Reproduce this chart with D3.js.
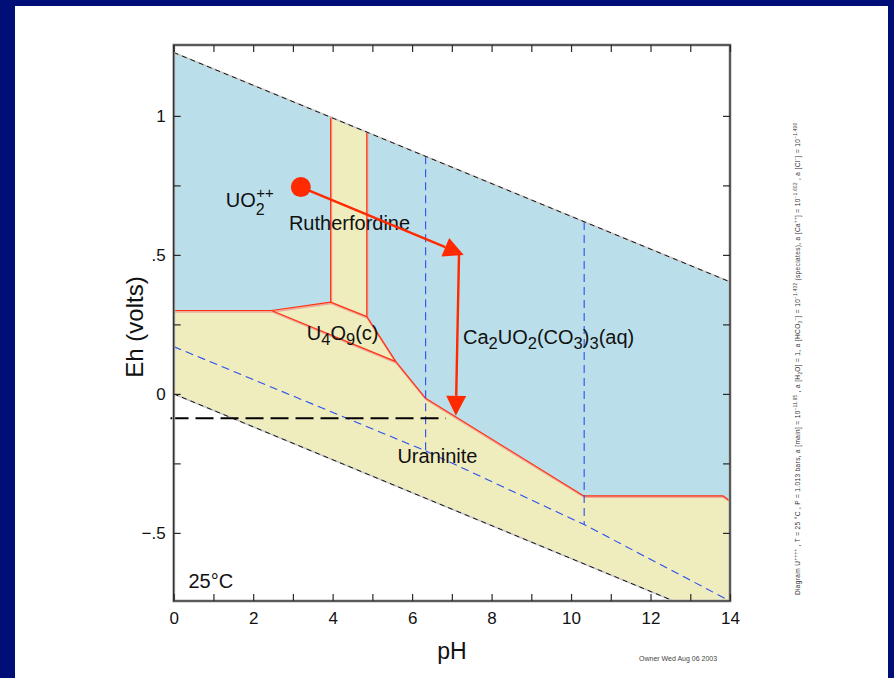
<!DOCTYPE html>
<html>
<head>
<meta charset="utf-8">
<script src="https://cdn.jsdelivr.net/npm/d3@7"></script>
<style>
  body { margin: 0; background: #000f78; }
  svg { display: block; }
  text { font-family: "Liberation Sans", Arial, Helvetica, sans-serif; }
</style>
</head>
<body>
<svg id="chart" width="894" height="678"></svg>
<script>
// Eh–pH predominance diagram for the U–C–Ca–Cl–H2O system at 25 °C

// Axis ticks and labels
const pHTicks = [0, 1, 2, 3, 4, 5, 6, 7, 8, 9, 10, 11, 12, 13, 14];
const pHLabels = [0, 2, 4, 6, 8, 10, 12, 14];
const ehTicks = [-0.5, -0.25, 0, 0.25, 0.5, 0.75, 1];
const ehLabelValues = [-0.5, 0, 0.5, 1];
const ehLabelText = ["\u2212.5", "0", ".5", "1"];

// Water stability limits (pH, Eh)
const waterUpper = [[0, 1.228], [14, 0.403]];
const waterLower = [[0, 0.0], [14, -0.829]];

// Predominance fields (pH, Eh)
const rutherfordineField = [[3.95, 0.998], [4.86, 0.941], [4.86, 0.278], [3.95, 0.330]];
const u4o9Field = [[2.46, 0.300], [3.95, 0.330], [4.86, 0.278], [5.59, 0.116]];
const aqueousLeft = [[0, 1.228], [3.95, 0.998], [3.95, 0.330], [2.46, 0.300], [0, 0.300]];
const aqueousRight = [[4.86, 0.941], [14, 0.403], [14, -0.385], [13.83, -0.367],
                      [10.32, -0.367], [6.34, -0.016], [5.59, 0.116], [4.86, 0.278]];

// Field boundaries
const boundaries = [
  [[0, 0.300], [2.46, 0.300], [3.95, 0.330], [3.95, 0.998]],
  [[4.86, 0.941], [4.86, 0.278], [5.59, 0.116], [6.34, -0.016], [10.32, -0.367], [13.83, -0.367], [14, -0.385]],
  [[3.95, 0.330], [4.86, 0.278]],
  [[2.46, 0.300], [5.59, 0.116]]
];

// Carbon speciation lines: CO2(aq)/HCO3-/CO3-- (vertical) and carbonate/CH4 (diagonal)
const carbonVertical = [
  [[6.34, 0.855], [6.34, -0.205]],
  [[10.33, 0.618], [10.33, -0.470]]
];
const carbonDiagonal = [[0, 0.170], [6.34, -0.205], [10.33, -0.470], [14, -0.745]];

// Reaction path: starting point and two legs
const startPoint = [3.2, 0.744];
const pathLegs = [
  [[3.2, 0.744], [7.30, 0.500]],
  [[7.18, 0.500], [7.10, -0.079]]
];

// Horizontal reference Eh
const refLine = [[-0.08, -0.088], [6.85, -0.088]];

// Field labels
const fieldLabels = [
  { pH: 2.90, Eh: 0.590, parts: [["Rutherfordine", 0]] },
  { pH: 3.35, Eh: 0.194, parts: [["U", 0], ["4", 1], ["O", 0], ["9", 1], ["(c)", 0]] },
  { pH: 7.28, Eh: 0.180, parts: [["Ca", 0], ["2", 1], ["UO", 0], ["2", 1], ["(CO", 0], ["3", 1], [")", 0], ["3", 1], ["(aq)", 0]] },
  { pH: 5.63, Eh: -0.247, parts: [["Uraninite", 0]] }
];

const W = 894, H = 678;
const margin = { left: 173.7, right: 730, top: 45, bottom: 601 };

const svg = d3.select("#chart");

svg.append("rect").attr("width", W).attr("height", H).attr("fill", "#000f78");
svg.append("rect").attr("x", 15).attr("y", 6).attr("width", 873).attr("height", H - 6).attr("fill", "#ffffff");

const x = d3.scaleLinear().domain([0, 14]).range([margin.left, margin.right]);
const y = d3.scaleLinear().domain([-0.745, 1.255]).range([margin.bottom, margin.top]);

const line = d3.line().x(d => x(d[0])).y(d => y(d[1]));
const poly = pts => line(pts) + "Z";

svg.append("defs").append("clipPath").attr("id", "plotClip")
  .append("rect")
  .attr("x", margin.left).attr("y", margin.top)
  .attr("width", margin.right - margin.left).attr("height", margin.bottom - margin.top);

const plot = svg.append("g").attr("clip-path", "url(#plotClip)");

const BLUE = "#bbdfea", YELLOW = "#efecbe", RED = "#ff3311";

// Water stability field (mineral colour), then aqueous fields on top
plot.append("path")
  .attr("d", poly([waterUpper[0], waterUpper[1], waterLower[1], waterLower[0]]))
  .attr("fill", YELLOW);
[aqueousLeft, aqueousRight].forEach(f =>
  plot.append("path").attr("d", poly(f)).attr("fill", BLUE));
[rutherfordineField, u4o9Field].forEach(f =>
  plot.append("path").attr("d", poly(f)).attr("fill", YELLOW));

// Boundaries with a soft shadow
boundaries.forEach(b => {
  plot.append("path").attr("d", line(b)).attr("fill", "none")
    .attr("stroke", "#eeaa9c").attr("stroke-width", 2).attr("transform", "translate(0.6,1.2)");
});
boundaries.forEach(b => {
  plot.append("path").attr("d", line(b)).attr("fill", "none")
    .attr("stroke", RED).attr("stroke-width", 1.2).attr("stroke-linejoin", "round");
});

// Carbon speciation (blue dashed)
carbonVertical.concat([carbonDiagonal]).forEach(c => {
  plot.append("path").attr("d", line(c)).attr("fill", "none")
    .attr("stroke", "#2b4ff0").attr("stroke-width", 1.1).attr("stroke-dasharray", "8,5");
});

// Water limits (black dashed over a grey trace)
[waterUpper, waterLower].forEach(w => {
  plot.append("path").attr("d", line(w)).attr("fill", "none")
    .attr("stroke", "#c8c8c8").attr("stroke-width", 1.6);
  plot.append("path").attr("d", line(w)).attr("fill", "none")
    .attr("stroke", "#111").attr("stroke-width", 1).attr("stroke-dasharray", "5,4");
});

// Reference Eh line
svg.append("path").attr("d", line(refLine)).attr("fill", "none")
  .attr("stroke", "#000").attr("stroke-width", 2).attr("stroke-dasharray", "18,7");

// Frame
svg.append("rect")
  .attr("x", margin.left).attr("y", margin.top)
  .attr("width", margin.right - margin.left).attr("height", margin.bottom - margin.top)
  .attr("fill", "none").attr("stroke", "#b5b5b5").attr("stroke-width", 3);
svg.append("rect")
  .attr("x", margin.left).attr("y", margin.top)
  .attr("width", margin.right - margin.left).attr("height", margin.bottom - margin.top)
  .attr("fill", "none").attr("stroke", "#2a2a2a").attr("stroke-width", 1.3);

// Axes with inward ticks on all four sides
const styleAxis = g => {
  g.select(".domain").remove();
  g.selectAll(".tick line").attr("stroke", "#2a2a2a").attr("stroke-width", 1.2);
  g.selectAll(".tick text").attr("fill", "#111").attr("font-size", 17)
    .attr("font-family", "'Liberation Sans', Arial, sans-serif");
};
svg.append("g").attr("transform", `translate(0,${margin.bottom})`)
  .call(d3.axisBottom(x).tickValues(pHTicks).tickSize(-7).tickPadding(11)
    .tickFormat(d => pHLabels.includes(d) ? String(d) : ""))
  .call(styleAxis);
svg.append("g").attr("transform", `translate(0,${margin.top})`)
  .call(d3.axisTop(x).tickValues(pHTicks).tickSize(-7).tickFormat(""))
  .call(styleAxis);
svg.append("g").attr("transform", `translate(${margin.left},0)`)
  .call(d3.axisLeft(y).tickValues(ehTicks).tickSize(-7).tickPadding(8)
    .tickFormat(d => { const i = ehLabelValues.indexOf(d); return i >= 0 ? ehLabelText[i] : ""; }))
  .call(styleAxis);
svg.append("g").attr("transform", `translate(${margin.right},0)`)
  .call(d3.axisRight(y).tickValues(ehTicks).tickSize(-7).tickFormat(""))
  .call(styleAxis);

// Axis titles
svg.append("text").attr("x", (margin.left + margin.right) / 2).attr("y", 659)
  .attr("text-anchor", "middle").attr("font-size", 23).attr("fill", "#111").text("pH");
svg.append("text").attr("transform", `translate(143,${(margin.top + margin.bottom) / 2 + 4}) rotate(-90)`)
  .attr("text-anchor", "middle").attr("font-size", 24).attr("fill", "#111").text("Eh (volts)");

// Field labels with subscripts
fieldLabels.forEach(l => {
  const t = svg.append("text").attr("x", x(l.pH)).attr("y", y(l.Eh))
    .attr("font-size", 20).attr("fill", "#111");
  let prev = 0;
  l.parts.forEach(([s, sub]) => {
    const shift = (sub ? 5 : 0) - (prev ? 5 : 0);
    t.append("tspan").attr("dy", shift).attr("font-size", sub ? 16.5 : 20).text(s);
    prev = sub;
  });
});

// UO2++ label: stacked subscript and superscript
const uo2 = svg.append("text").attr("x", x(1.31)).attr("y", y(0.674))
  .attr("font-size", 20).attr("fill", "#111");
uo2.append("tspan").text("UO");
uo2.append("tspan").attr("font-size", 16).attr("dy", 8).text("2");
uo2.append("tspan").attr("font-size", 15).attr("dx", -8.5).attr("dy", -17).text("++");

// Temperature label
svg.append("text").attr("x", x(0.37)).attr("y", y(-0.699))
  .attr("font-size", 20).attr("fill", "#111").text("25\u00b0C");

// Reaction path
const RED2 = "#ff2a00";
pathLegs.forEach(([a, b]) => {
  const x0 = x(a[0]), y0 = y(a[1]), x1 = x(b[0]), y1 = y(b[1]);
  const len = Math.hypot(x1 - x0, y1 - y0);
  const ux = (x1 - x0) / len, uy = (y1 - y0) / len;
  const hl = 20, hw = 10;
  const bx = x1 - ux * hl, by = y1 - uy * hl;
  svg.append("line").attr("x1", x0).attr("y1", y0).attr("x2", bx).attr("y2", by)
    .attr("stroke", RED2).attr("stroke-width", 2.4);
  svg.append("path")
    .attr("d", `M${x1},${y1}L${bx - uy * hw},${by + ux * hw}L${bx + uy * hw},${by - ux * hw}Z`)
    .attr("fill", RED2);
});
svg.append("circle").attr("cx", x(startPoint[0])).attr("cy", y(startPoint[1])).attr("r", 10)
  .attr("fill", RED2);

// Run conditions (vertical note)
const note = svg.append("text").attr("transform", "translate(800,595) rotate(-90)")
  .attr("font-size", 6.5).attr("fill", "#333")
  .attr("textLength", 472).attr("lengthAdjust", "spacing");
const noteParts = [
  ["Diagram U", 0], ["++++", 1], [" , T = 25 \u00b0C , P = 1.013 bars, a [main] = 10", 0], ["\u221211.95", 1],
  [" , a [H", 0], ["2", -1], ["O] = 1, a [HCO", 0], ["3", -1], ["\u2212", 1], ["] = 10", 0], ["\u22121.432", 1],
  [" (speciates), a [Ca", 0], ["++", 1], ["] = 10", 0], ["\u22121.602", 1],
  [" , a [Cl", 0], ["\u2212", 1], ["] = 10", 0], ["\u22121.496", 1]
];
let lvl = 0;
noteParts.forEach(([s, k]) => {
  const target = k === 1 ? -3 : (k === -1 ? 2 : 0);
  note.append("tspan").attr("dy", target - lvl).attr("font-size", k ? 4.5 : 6.5).text(s);
  lvl = target;
});

// Footer
svg.append("text").attr("x", 639).attr("y", 661).attr("font-size", 7).attr("fill", "#444")
  .text("Owner Wed Aug 06 2003");
</script>
</body>
</html>
